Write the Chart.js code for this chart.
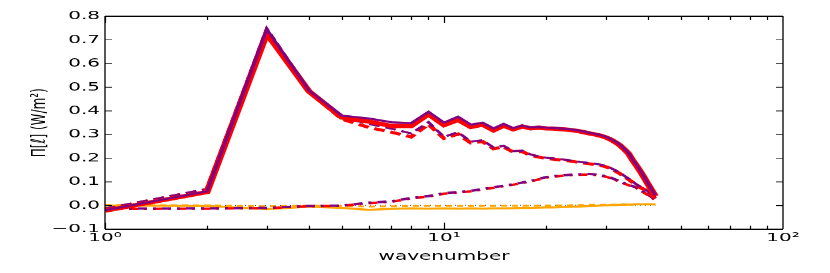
<!DOCTYPE html>
<html>
<head>
<meta charset="utf-8">
<script src="https://cdn.jsdelivr.net/npm/chart.js@4"></script>
<style>
  html, body { margin: 0; padding: 0; background: #fff; overflow: hidden; }
  /* the figure is drawn tall and squeezed down, like the original image */
  #wrap { width: 830px; height: 455px; transform: scaleY(0.6); transform-origin: 0 0; }
</style>
</head>
<body>
<div id="wrap"><canvas id="grafico" width="830" height="455"></canvas></div>
<script>
// datos
var wavenumbers = [1,2,3,4,5,6,7,8,9,10,11,12,13,14,15,16,17,18,19,20,21,
                   22,23,24,25,26,27,28,29,30,31,32,33,34,35,36,37,38,39,40,41,42];

var rojoSolido = [-0.022,0.057,0.727,0.482,0.372,0.355,0.336,0.336,0.386,0.340,0.362,
                  0.332,0.342,0.318,0.338,0.322,0.334,0.326,0.329,0.326,0.325,
                  0.323,0.321,0.318,0.314,0.309,0.304,0.300,0.295,0.288,0.279,
                  0.268,0.255,0.238,0.220,0.192,0.168,0.143,0.117,0.090,0.065,0.040];

var moradoSolido = [-0.020,0.060,0.745,0.486,0.380,0.368,0.352,0.348,0.396,0.350,0.375,
                    0.342,0.350,0.326,0.345,0.327,0.338,0.330,0.333,0.329,0.328,
                    0.326,0.324,0.321,0.317,0.312,0.307,0.303,0.298,0.291,0.282,
                    0.271,0.258,0.241,0.223,0.195,0.171,0.146,0.120,0.093,0.068,0.043];

var rojoDiscontinuo = [-0.015,0.068,0.735,0.482,0.365,0.330,0.310,0.290,0.343,0.284,0.302,
                       0.265,0.270,0.240,0.248,0.226,0.228,0.212,0.205,0.199,0.196,
                       0.193,0.190,0.186,0.182,0.179,0.176,0.173,0.170,0.164,0.156,
                       0.146,0.135,0.123,0.111,0.098,0.086,0.076,0.067,0.057,0.044,0.030];

var moradoDiscontinuo = [-0.013,0.070,0.748,0.486,0.372,0.345,0.325,0.305,0.352,0.290,0.310,
                         0.270,0.276,0.245,0.252,0.230,0.232,0.216,0.208,0.202,0.199,
                         0.196,0.193,0.189,0.185,0.182,0.179,0.176,0.173,0.167,0.159,
                         0.149,0.138,0.126,0.114,0.101,0.089,0.079,0.070,0.060,0.047,0.033];

var moradoPuntoRaya = [-0.013,-0.012,-0.010,-0.002,0.000,0.012,0.018,0.032,0.040,0.052,0.057,
                       0.062,0.070,0.077,0.084,0.090,0.097,0.104,0.112,0.120,0.124,
                       0.127,0.129,0.131,0.132,0.133,0.133,0.131,0.128,0.124,0.118,
                       0.110,0.103,0.095,0.088,0.082,0.076,0.066,0.056,0.046,0.036,0.025];

var rojoPuntoRaya = [-0.014,-0.013,-0.011,-0.003,-0.001,0.010,0.016,0.030,0.038,0.050,0.055,
                     0.060,0.068,0.075,0.082,0.088,0.095,0.102,0.110,0.118,0.122,
                     0.125,0.127,0.129,0.130,0.131,0.131,0.129,0.126,0.122,0.116,
                     0.108,0.101,0.093,0.086,0.080,0.074,0.064,0.054,0.044,0.034,0.023];

var naranjaSolido = [0.000,-0.002,-0.015,-0.005,-0.010,-0.018,-0.014,-0.012,-0.013,-0.012,-0.013,
                     -0.012,-0.013,-0.012,-0.012,-0.011,-0.010,-0.010,-0.009,-0.008,-0.008,
                     -0.007,-0.006,-0.005,-0.004,-0.003,-0.002,-0.001,0.000,0.001,0.002,
                     0.002,0.003,0.003,0.004,0.004,0.005,0.005,0.005,0.005,0.005,0.004];

var naranjaDiscontinuo = [0.002,0.001,-0.003,0.000,-0.002,-0.004,-0.003,-0.002,-0.002,-0.002,-0.002,
                          -0.002,-0.002,-0.002,-0.001,-0.001,-0.001,0.000,0.000,0.000,0.001,
                          0.001,0.001,0.002,0.002,0.002,0.003,0.003,0.003,0.004,0.004,
                          0.004,0.005,0.005,0.005,0.006,0.006,0.006,0.006,0.006,0.006,0.005];

var negroPunteado = [0.001,0.001,0.000,0.001,0.001,0.001,0.001,0.001,0.001,0.001,0.001,
                     0.001,0.001,0.001,0.001,0.001,0.001,0.001,0.001,0.001,0.001,
                     0.001,0.001,0.001,0.001,0.001,0.001,0.001,0.001,0.001,0.001,
                     0.001,0.001,0.001,0.001,0.001,0.001,0.001,0.001,0.001,0.001,0.001];

var yTicks = [-0.1, 0.0, 0.1, 0.2, 0.3, 0.4, 0.5, 0.6, 0.7, 0.8];
var xTicks = [1, 10, 100];
var superindices = ['\u2070', '\u00b9', '\u00b2'];

function puntos(serie) {
    return wavenumbers.map(function(k, i) { return {x: k, y: serie[i]}; });
}

function linea(serie, color, ancho, guiones, orden) {
    return {
        data: puntos(serie),
        borderColor: color,
        borderWidth: ancho,
        borderDash: guiones,
        pointRadius: 0,
        tension: 0,
        fill: false,
        order: orden
    };
}

// marcas hacia dentro y el marco, como en matplotlib
var marcas = {
    id: 'marcas',
    afterDatasetsDraw: function(chart) {
        var ctx = chart.ctx, a = chart.chartArea;
        var x = chart.scales.x, y = chart.scales.y;
        ctx.save();
        ctx.strokeStyle = '#000';
        ctx.lineWidth = 1.2;
        ctx.beginPath();
        for (var d = 0; d < 2; d++) {
            for (var m = 1; m < 10; m++) {
                var v = Math.pow(10, d) * m;
                var px = Math.round(x.getPixelForValue(v)) + 0.5;
                var largo = m === 1 ? 11 : 6;
                ctx.moveTo(px, a.bottom); ctx.lineTo(px, a.bottom - largo);
                ctx.moveTo(px, a.top); ctx.lineTo(px, a.top + largo);
            }
        }
        yTicks.forEach(function(v) {
            var py = y.getPixelForValue(v);
            ctx.moveTo(a.left, py); ctx.lineTo(a.left + 7, py);
            ctx.moveTo(a.right, py); ctx.lineTo(a.right - 7, py);
        });
        ctx.stroke();
        ctx.lineWidth = 1.8;
        ctx.beginPath();
        ctx.moveTo(a.left, a.top); ctx.lineTo(a.right, a.top);
        ctx.moveTo(a.left, a.bottom); ctx.lineTo(a.right, a.bottom);
        ctx.stroke();
        ctx.lineWidth = 1.3;
        ctx.beginPath();
        ctx.moveTo(a.left, a.top); ctx.lineTo(a.left, a.bottom);
        ctx.moveTo(a.right, a.top); ctx.lineTo(a.right, a.bottom);
        ctx.stroke();
        ctx.restore();
    }
};

var fuente = {family: 'DejaVu Sans', size: 20, lineHeight: 1.2};

var grafico = new Chart(document.getElementById('grafico'), {
    type: 'line',
    data: {
        datasets: [
            linea(negroPunteado, '#444444', 1.2, [1, 4], 9),
            linea(naranjaDiscontinuo, '#ffa500', 3, [6, 5], 8),
            linea(naranjaSolido, '#ffa500', 3.5, [], 7),
            linea(rojoPuntoRaya, '#ff0000', 4, [9, 6, 3, 6], 6),
            linea(moradoPuntoRaya, '#800080', 4, [3, 6, 9, 6], 5),
            linea(rojoDiscontinuo, '#ff0000', 5, [11, 6], 4),
            linea(moradoDiscontinuo, '#800080', 3.5, [11, 6], 3),
            linea(rojoSolido, '#ff0000', 7, [], 2),
            linea(moradoSolido, '#800080', 3.5, [], 1)
        ]
    },
    options: {
        responsive: false,
        animation: false,
        devicePixelRatio: 1,
        layout: { padding: {left: 0, right: 47, top: 27, bottom: 0} },
        plugins: { legend: {display: false}, tooltip: {enabled: false} },
        scales: {
            x: {
                type: 'logarithmic',
                min: 1,
                max: 100,
                grid: {display: false, drawTicks: false},
                border: {display: false},
                afterBuildTicks: function(scale) {
                    scale.ticks = xTicks.map(function(v) { return {value: v, major: true}; });
                },
                afterFit: function(scale) { scale.height = 73; },
                ticks: {
                    autoSkip: false,
                    maxRotation: 0,
                    padding: 3,
                    color: '#000',
                    font: fuente,
                    callback: function(v) {
                        return '10' + superindices[Math.round(Math.log10(v))];
                    }
                },
                title: {
                    display: true,
                    text: 'wavenumber',
                    color: '#000',
                    font: fuente,
                    padding: {top: 15, bottom: 15}
                }
            },
            y: {
                min: -0.1,
                max: 0.8,
                grid: {display: false, drawTicks: false},
                border: {display: false},
                afterBuildTicks: function(scale) {
                    scale.ticks = yTicks.map(function(v) { return {value: v}; });
                },
                afterFit: function(scale) { scale.width = 105; },
                ticks: {
                    padding: 5,
                    color: '#000',
                    font: fuente,
                    callback: function(v) {
                        return (v < -1e-9 ? '\u2212' : '') + Math.abs(v).toFixed(1);
                    }
                },
                title: {
                    display: true,
                    text: '\u03a0[\u2113] (W/m\u00b2)',
                    color: '#000',
                    font: fuente,
                    padding: {top: 28, bottom: 28}
                }
            }
        }
    },
    plugins: [marcas]
});
</script>
</body>
</html>
